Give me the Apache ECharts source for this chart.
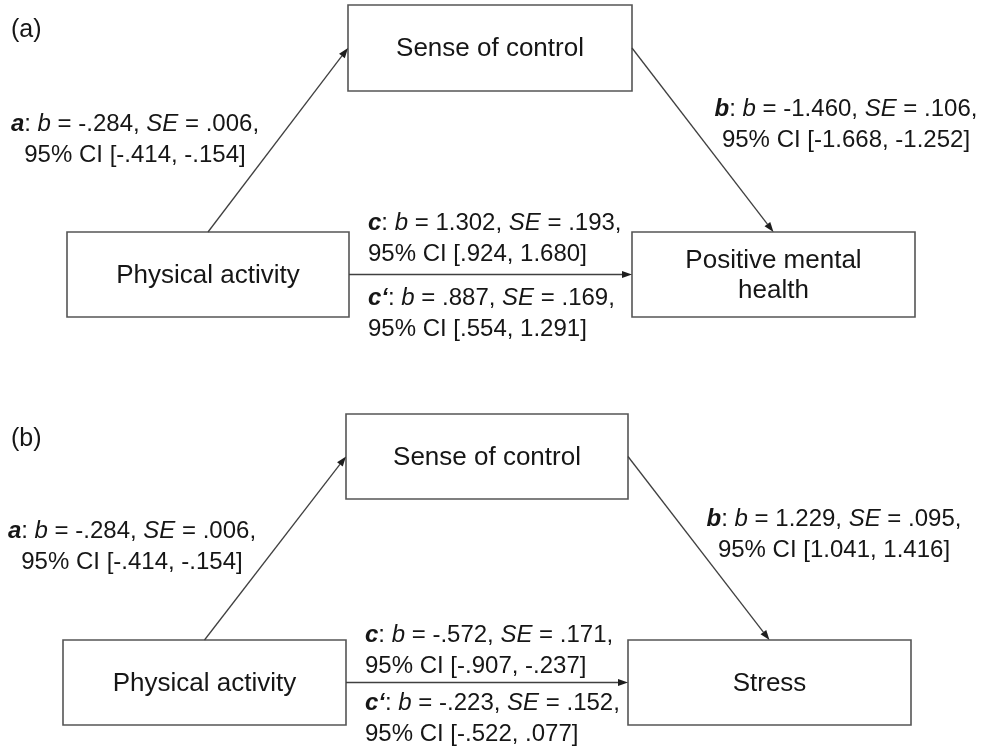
<!DOCTYPE html>
<html>
<head>
<meta charset="utf-8">
<script src="https://cdn.jsdelivr.net/npm/echarts@6/dist/echarts.min.js"></script>
<style>
html, body { margin: 0; padding: 0; background: #fff; }
#chart { width: 984px; height: 749px; }
</style>
</head>
<body>
<div id="chart"></div>
<script>
// node labels per panel
const panelTags = ['(a)', '(b)']
const mediatorNames = ['Sense of control', 'Sense of control']
const predictorNames = ['Physical activity', 'Physical activity']
const outcomeNames = ['Positive mental\nhealth', 'Stress']

// paths, in order a, b, c, c'
const pathNames = ['a', 'b', 'c', 'c‘']

// panel (a): positive mental health
const coefA = [-0.284, -1.460, 1.302, 0.887]
const seA   = [0.006, 0.106, 0.193, 0.169]
const ciLoA = [-0.414, -1.668, 0.924, 0.554]
const ciHiA = [-0.154, -1.252, 1.680, 1.291]

// panel (b): stress
const coefB = [-0.284, 1.229, -0.572, -0.223]
const seB   = [0.006, 0.095, 0.171, 0.152]
const ciLoB = [-0.414, 1.041, -0.907, -0.522]
const ciHiB = [-0.154, 1.416, -0.237, 0.077]

// layout in frame units (0..984 x 0..749), boxes as [left, top, right, bottom]
const layout = [
  { tag: [11, 30], M: [348, 5, 632, 91], X: [67, 232, 349, 317], Y: [632, 232, 915, 317],
    lab: [[135, 140], [846, 125], [368, 239], [368, 314]] },
  { tag: [11, 439], M: [346, 414, 628, 499], X: [63, 640, 346, 725], Y: [628, 640, 911, 725],
    lab: [[132, 547], [834, 535], [365, 651], [365, 719]] }
]
const labAlign = ['center', 'center', 'left', 'left']

const FONT = '"Liberation Sans", Arial, Helvetica, sans-serif'
const INK = '#161616'
const LINE = '#404040'

function apa(v) {
  return v.toFixed(3).replace(/^(-?)0\./, '$1.')
}

function pathText(i, coef, se, lo, hi) {
  return '{bi|' + pathNames[i] + '}: {i|b} = ' + apa(coef[i]) + ', {i|SE} = ' + apa(se[i]) +
    ',\n95% CI [' + apa(lo[i]) + ', ' + apa(hi[i]) + ']'
}

const stats = [
  [coefA, seA, ciLoA, ciHiA],
  [coefB, seB, ciLoB, ciHiB]
]

// build series data from the arrays above
const boxes = []
const arrows = []
const labels = []
layout.forEach((L, p) => {
  boxes.push({ value: L.M, label: mediatorNames[p] })
  boxes.push({ value: L.X, label: predictorNames[p] })
  boxes.push({ value: L.Y, label: outcomeNames[p] })
  const topMid = (r) => [(r[0] + r[2]) / 2, r[1]]
  const leftMid = (r) => [r[0], (r[1] + r[3]) / 2]
  const rightMid = (r) => [r[2], (r[1] + r[3]) / 2]
  arrows.push({ value: topMid(L.X).concat(leftMid(L.M)) })   // a
  arrows.push({ value: rightMid(L.M).concat(topMid(L.Y)) })  // b
  arrows.push({ value: rightMid(L.X).concat(leftMid(L.Y)) }) // c / c'
  labels.push({ value: L.tag, text: panelTags[p], align: 'left', size: 25 })
  const [coef, se, lo, hi] = stats[p]
  for (let i = 0; i < 4; i++) {
    labels.push({ value: L.lab[i], text: pathText(i, coef, se, lo, hi), align: labAlign[i], size: 24 })
  }
})

function richStyle(size) {
  return {
    bi: { fontSize: size, fontFamily: FONT, fontWeight: 'bold', fontStyle: 'italic', fill: INK, lineHeight: 31 },
    i: { fontSize: size, fontFamily: FONT, fontStyle: 'italic', fill: INK, lineHeight: 31 }
  }
}

const chart = echarts.init(document.getElementById('chart'))
chart.setOption({
  animation: false,
  backgroundColor: '#fff',
  grid: { left: 0, right: 0, top: 0, bottom: 0 },
  xAxis: { type: 'value', min: 0, max: 984, show: false },
  yAxis: { type: 'value', min: 0, max: 749, inverse: true, show: false },
  series: [
    {
      type: 'custom',
      name: 'boxes',
      data: boxes,
      renderItem: (params, api) => {
        const p0 = api.coord([api.value(0), api.value(1)])
        const p1 = api.coord([api.value(2), api.value(3)])
        return {
          type: 'group',
          children: [
            {
              type: 'rect',
              shape: { x: p0[0], y: p0[1], width: p1[0] - p0[0], height: p1[1] - p0[1] },
              style: { fill: '#fff', stroke: '#555', lineWidth: 1.6 }
            },
            {
              type: 'text',
              x: (p0[0] + p1[0]) / 2,
              y: (p0[1] + p1[1]) / 2 + 1,
              style: {
                text: boxes[params.dataIndex].label,
                fontSize: 26, fontFamily: FONT, fill: INK,
                align: 'center', verticalAlign: 'middle', lineHeight: 30
              }
            }
          ]
        }
      }
    },
    {
      type: 'custom',
      name: 'arrows',
      data: arrows,
      z: 3,
      renderItem: (params, api) => {
        const a = api.coord([api.value(0), api.value(1)])
        const b = api.coord([api.value(2), api.value(3)])
        const dx = b[0] - a[0], dy = b[1] - a[1]
        const len = Math.hypot(dx, dy)
        const ux = dx / len, uy = dy / len
        const hl = 10, hw = 3.6
        const base = [b[0] - ux * hl, b[1] - uy * hl]
        return {
          type: 'group',
          children: [
            {
              type: 'line',
              shape: { x1: a[0], y1: a[1], x2: base[0], y2: base[1] },
              style: { stroke: LINE, lineWidth: 1.3 }
            },
            {
              type: 'polygon',
              shape: { points: [b, [base[0] - uy * hw, base[1] + ux * hw], [base[0] + uy * hw, base[1] - ux * hw]] },
              style: { fill: '#1e1e1e' }
            }
          ]
        }
      }
    },
    {
      type: 'custom',
      name: 'labels',
      data: labels,
      z: 4,
      renderItem: (params, api) => {
        const it = labels[params.dataIndex]
        const p = api.coord([api.value(0), api.value(1)])
        return {
          type: 'text',
          x: p[0],
          y: p[1],
          style: {
            text: it.text,
            fontSize: it.size, fontFamily: FONT, fill: INK,
            align: it.align, verticalAlign: 'middle', lineHeight: 31,
            rich: richStyle(it.size)
          }
        }
      }
    }
  ]
})
window.addEventListener('resize', () => chart.resize())
</script>
</body>
</html>
